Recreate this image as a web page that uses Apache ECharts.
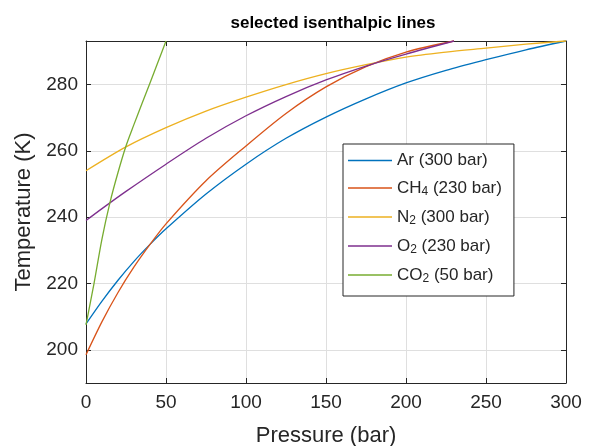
<!DOCTYPE html>
<html>
<head>
<meta charset="utf-8">
<script src="https://cdn.jsdelivr.net/npm/echarts@6/dist/echarts.min.js"></script>
<style>html,body{margin:0;padding:0;background:#fff;}#c{width:589px;height:446px;}</style>
</head>
<body>
<div id="c"></div>
<script>
// ---- data ----
var arP   = [0, 10, 20, 30, 40, 50, 75, 100, 125, 150, 175, 200, 225, 250, 275, 300];
var arT   = [207.8, 214.7, 221, 226.7, 231.8, 236.5, 247, 256, 263.8, 270.2, 275.7, 280.5, 284.3, 287.5, 290.5, 293.15];
var ch4P  = [0, 10, 20, 30, 40, 50, 75, 100, 125, 150, 175, 200, 230];
var ch4T  = [198.5, 208.5, 217.3, 225, 231.8, 238, 251, 261.5, 271.3, 279.3, 285.4, 289.8, 293.15];
var n2P   = [0, 25, 50, 75, 100, 125, 150, 175, 200, 225, 250, 275, 300];
var n2T   = [254, 261.2, 267, 272, 276.2, 280, 283.3, 286, 288.3, 289.8, 291, 292.2, 293.15];
var o2P   = [0, 10, 25, 50, 75, 100, 125, 150, 175, 200, 230];
var o2T   = [239, 242.6, 247.8, 256, 263.8, 270.6, 276.4, 281.4, 285.6, 289.2, 293.15];
var co2P  = [0, 5, 10, 15, 20, 25, 30, 35, 40, 45, 50];
var co2T  = [207.5, 220, 233.5, 244.5, 253.5, 261.5, 268, 274.3, 280.5, 286.8, 293.15];

var gasBase   = ['Ar', 'CH', 'N', 'O', 'CO'];
var gasSub    = ['', '4', '2', '2', '2'];
var gasSuffix = [' (300 bar)', ' (230 bar)', ' (300 bar)', ' (230 bar)', ' (50 bar)'];
var gasColors = ['#0072BD', '#D95319', '#EDB120', '#7E2F8E', '#77AC30'];

var xTicks = [0, 50, 100, 150, 200, 250, 300];
var yTicks = [200, 220, 240, 260, 280];

var titleText = 'selected isenthalpic lines';
var xName = 'Pressure (bar)';
var yName = 'Temperature (K)';

// ---- build ----
var pList = [arP, ch4P, n2P, o2P, co2P];
var tList = [arT, ch4T, n2T, o2T, co2T];
var FONT = '"Liberation Sans", Arial, Helvetica, sans-serif';
var TXT = '#262626';

var names = [], richMap = {};
for (var i = 0; i < gasBase.length; i++) {
  var nm = gasBase[i] + gasSub[i] + gasSuffix[i];
  names.push(nm);
  richMap[nm] = gasSub[i]
    ? '{n|' + gasBase[i] + '}{s|' + gasSub[i] + '}{n|' + gasSuffix[i] + '}'
    : '{n|' + gasBase[i] + gasSuffix[i] + '}';
}

var series = [];
for (var k = 0; k < names.length; k++) {
  var d = [];
  for (var j = 0; j < pList[k].length; j++) d.push([pList[k][j], tList[k][j]]);
  series.push({
    name: names[k], type: 'line', data: d, symbol: 'none', smooth: 0.3,
    xAxisIndex: 0, yAxisIndex: 0,
    lineStyle: { color: gasColors[k], width: 1.3 }, itemStyle: { color: gasColors[k] },
    clip: false, animation: false
  });
}

var axisLine = { show: true, onZero: false, lineStyle: { color: TXT, width: 1 } };
var chart = echarts.init(document.getElementById('c'), null, { renderer: 'canvas' });
chart.setOption({
  animation: false,
  backgroundColor: '#fff',
  title: {
    text: titleText, left: 328, top: 10, textAlign: 'center',
    textStyle: { fontFamily: FONT, fontSize: 17, fontWeight: 'bold', color: '#000' }
  },
  grid: { left: 86, right: 23, top: 41, bottom: 63, containLabel: false, outerBoundsMode: 'none' },
  legend: {
    orient: 'vertical', left: 343, top: 144,
    padding: [8, 12, 11, 5], itemGap: 10.5,
    itemWidth: 44, itemHeight: 1.4, icon: 'rect',
    borderColor: TXT, borderWidth: 1, backgroundColor: '#fff',
    data: names,
    formatter: function (n) { return richMap[n]; },
    textStyle: {
      fontFamily: FONT, fontSize: 17, color: TXT,
      rich: {
        n: { fontFamily: FONT, fontSize: 17, lineHeight: 20, color: TXT },
        s: { fontFamily: FONT, fontSize: 12, lineHeight: 7, verticalAlign: 'bottom', color: TXT }
      }
    }
  },
  xAxis: [{
    type: 'value', min: xTicks[0], max: xTicks[xTicks.length - 1], interval: 50,
    position: 'bottom',
    name: xName, nameLocation: 'middle', nameGap: 42,
    nameTextStyle: { fontFamily: FONT, fontSize: 22, color: TXT },
    axisLine: axisLine,
    axisTick: { show: true, inside: true, length: 5, lineStyle: { color: TXT } },
    axisLabel: { fontFamily: FONT, fontSize: 19, color: TXT, margin: 10 },
    splitLine: { show: true, lineStyle: { color: '#dfdfdf', width: 1 } }
  }, {
    type: 'value', min: xTicks[0], max: xTicks[xTicks.length - 1], interval: 50,
    position: 'top',
    axisLine: axisLine,
    axisTick: { show: true, inside: true, length: 5, lineStyle: { color: TXT } },
    axisLabel: { show: false }, splitLine: { show: false }
  }],
  yAxis: [{
    type: 'value', min: 190, max: 293.15,
    position: 'left',
    name: yName, nameLocation: 'middle', nameGap: 40, nameRotate: 90,
    nameTextStyle: { fontFamily: FONT, fontSize: 22, color: TXT },
    axisLine: axisLine,
    axisTick: { show: true, inside: true, length: 5, customValues: yTicks, lineStyle: { color: TXT } },
    axisLabel: { fontFamily: FONT, fontSize: 19, color: TXT, margin: 8, customValues: yTicks },
    splitLine: { show: true, lineStyle: { color: '#dfdfdf', width: 1 } }
  }, {
    type: 'value', min: 190, max: 293.15,
    position: 'right',
    axisLine: axisLine,
    axisTick: { show: true, inside: true, length: 5, customValues: yTicks, lineStyle: { color: TXT } },
    axisLabel: { show: false, customValues: yTicks }, splitLine: { show: false }
  }],
  series: series
});
</script>
</body>
</html>
